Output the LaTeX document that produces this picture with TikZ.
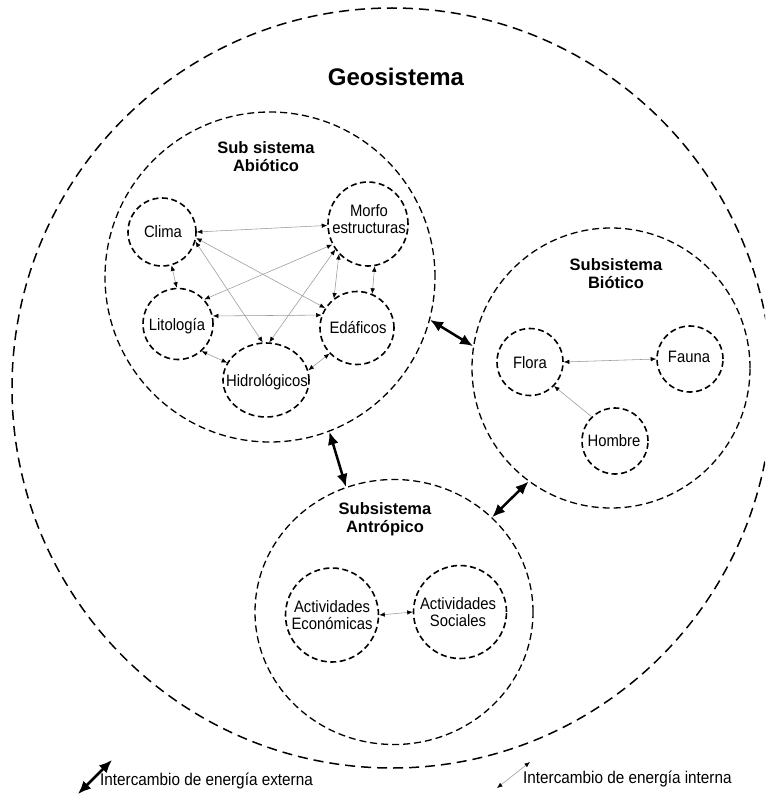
\documentclass[tikz,border=0pt]{standalone}
\usepackage{fontspec}
\setmainfont{Liberation Sans}
\newfontfamily\narrowfont[FakeStretch=0.9]{Liberation Sans}
\usetikzlibrary{arrows.meta,shapes.geometric}
\begin{document}
\begin{tikzpicture}[x=1pt,y=-1pt,
  outerc/.style={circle, draw, dash pattern=on 10pt off 6pt, line width=1.5pt, inner sep=0pt},
  subsys/.style={ellipse, draw, dash pattern=on 7pt off 4pt, line width=1.3pt, inner sep=0pt},
  elem/.style={ellipse, draw, dash pattern=on 6pt off 3.5pt, line width=1.6pt, inner sep=0pt},
  lbl/.style={align=center, inner sep=0pt, font=\narrowfont\fontsize{16.5}{17}\selectfont},
  head/.style={align=center, inner sep=0pt, font=\bfseries\fontsize{16.5}{18}\selectfont},
  legt/.style={anchor=west, inner sep=0pt, font=\narrowfont\fontsize{17}{20}\selectfont},
  intarr/.style={draw=black!40, line width=0.55pt, {Latex[length=5.5pt,width=4.5pt,color=black]}-{Latex[length=5.5pt,width=4.5pt,color=black]}},
  intone/.style={draw=black!40, line width=0.55pt, -{Latex[length=5.5pt,width=4.5pt,color=black]}},
  extarr/.style={line width=2.5pt, {Latex[length=13pt,width=11pt]}-{Latex[length=13pt,width=11pt]}},
]
\useasboundingbox (0,0) rectangle (765,797);
\fill[white] (0,0) rectangle (765,797);
\clip (0,0) rectangle (765,797);

% outer system
\node[outerc, minimum size=760pt] (geo) at (392,388) {};
\node[inner sep=0pt, font=\bfseries\fontsize{24}{28}\selectfont] (geot) at (396,77) {Geosistema};

% subsystems
\node[subsys, minimum width=330pt, minimum height=330pt] (abio) at (270,277) {};
\node[subsys, minimum width=278pt, minimum height=280pt] (bio) at (611,368) {};
\node[subsys, minimum width=278pt, minimum height=265pt] (antr) at (394,612) {};
\node[head] (abiot) at (266,157) {Sub sistema\\Abiótico};
\node[head] (biot) at (616,274) {Subsistema\\Biótico};
\node[head] (antt) at (385,519) {Subsistema\\Antrópico};

% abiotic elements
\node[elem, minimum width=68pt, minimum height=68pt] (clima) at (162,232) {};
\node[elem, minimum width=80pt, minimum height=84pt] (morfo) at (368,224) {};
\node[elem, minimum width=70pt, minimum height=71pt] (lito) at (178,324) {};
\node[elem, minimum width=74pt, minimum height=73pt] (edaf) at (357,328) {};
\node[elem, minimum width=86pt, minimum height=74pt] (hidro) at (266,380) {};
\node[lbl] (climal) at (163,232) {Clima};
\node[lbl] (morfol) at (369,219) {Morfo\\estructuras};
\node[lbl] (litol) at (177,326) {Litología};
\node[lbl] (edafl) at (358,328) {Edáficos};
\node[lbl] (hidrol) at (267,382) {Hidrológicos};

% biotic elements
\node[elem, minimum width=66pt, minimum height=67pt] (flora) at (530,362) {};
\node[elem, minimum width=66pt, minimum height=66pt] (fauna) at (690,359) {};
\node[elem, minimum width=66pt, minimum height=66pt] (hombre) at (615,441) {};
\node[lbl] (floral) at (530,363) {Flora};
\node[lbl] (faunal) at (689,357) {Fauna};
\node[lbl] (hombrel) at (614,441) {Hombre};

% antropic elements
\node[elem, minimum width=93pt, minimum height=94pt] (econ) at (332,615) {};
\node[elem, minimum width=93pt, minimum height=93pt] (soc) at (460,612) {};
\node[lbl] (econl) at (332,615) {Actividades\\Económicas};
\node[lbl] (socl) at (458,612) {Actividades\\Sociales};

% internal exchanges (abiotic)
\draw[intarr] (clima.0) -- (morfo.182);
\draw[intarr] (clima.-74) -- (lito.92);
\draw[intarr] (clima.-10) -- (edaf.148);
\draw[intarr] (clima.-16) -- (hidro.95);
\draw[intarr] (morfo.210) -- (lito.43);
\draw[intarr] (morfo.218) -- (hidro.85);
\draw[intarr] (morfo.226) -- (edaf.128);
\draw[intarr] (morfo.-81) -- (edaf.66);
\draw[intarr] (lito.13) -- (edaf.160);
\draw[intarr] (lito.-49) -- (hidro.156);
\draw[intarr] (edaf.-137) -- (hidro.13);

% internal exchanges (biotic, antropic)
\draw[intarr] (flora.0) -- (fauna.180);
\draw[intone] (hombre.134) -- (flora.-45);
\draw[intarr] (econ.0) -- (soc.180);

% external exchanges
\draw[extarr] (abio.-15.8) -- (bio.171);
\draw[extarr] (abio.-69) -- (antr.111);
\draw[extarr] (bio.234) -- (antr.44);

% legend
\coordinate (e1) at (78,794);
\coordinate (e2) at (112,760);
\draw[extarr] (e1) -- (e2);
\node[legt] (lege) at (100,781) {Intercambio de energía externa};
\coordinate (i1) at (497,788);
\coordinate (i2) at (530,762);
\draw[intarr] (i1) -- (i2);
\node[legt] (legi) at (523,779) {Intercambio de energía interna};
\end{tikzpicture}
\end{document}
